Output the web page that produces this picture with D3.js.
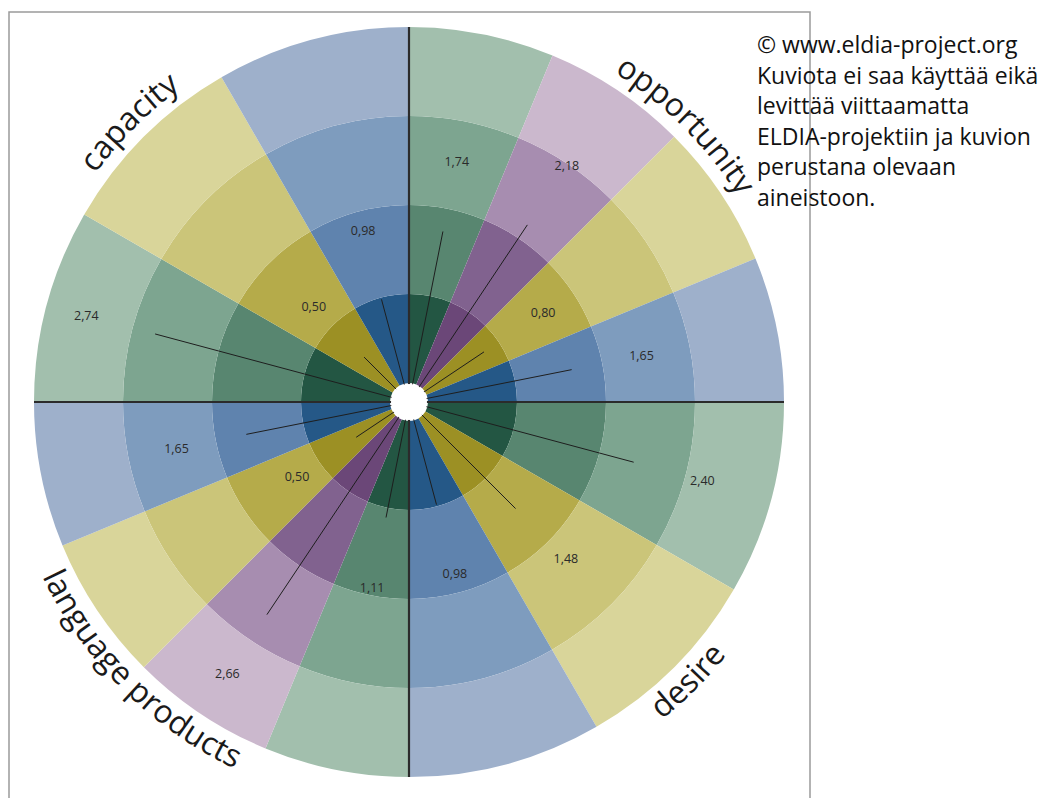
<!DOCTYPE html>
<html>
<head>
<meta charset="utf-8">
<script src="https://cdn.jsdelivr.net/npm/d3@7"></script>
<style>
  html, body { margin: 0; padding: 0; background: #fff; }
  svg { display: block; }
  text { font-family: "Open Sans", "Noto Sans", sans-serif; fill: #1a1a1a; }
</style>
</head>
<body>
<svg id="chart" width="1045" height="798"></svg>
<script>
// quadrants, clockwise from the top
var quadrants = ['opportunity', 'desire', 'language products', 'capacity'];
// one entry per sector, clockwise from the top
var sectorQuadrant = [0, 0, 0, 0, 1, 1, 1, 2, 2, 2, 2, 3, 3, 3];
var sectorColor = ['green', 'purple', 'yellow', 'blue',
  'green', 'yellow', 'blue',
  'green', 'purple', 'yellow', 'blue',
  'green', 'yellow', 'blue'];
var sectorValue = [1.74, 2.18, 0.80, 1.65,
  2.40, 1.48, 0.98,
  1.11, 2.66, 0.50, 1.65,
  2.74, 0.50, 0.98];
var rings = [1, 2, 3, 4];
var noteLines = ['© www.eldia-project.org', 'Kuviota ei saa käyttää eikä',
  'levittää viittaamatta', 'ELDIA-projektiin ja kuvion',
  'perustana olevaan', 'aineistoon.'];

// shades from inner ring to outer ring
var palette = {
  green:  ['#235643', '#588670', '#7da590', '#a2bfad'],
  blue:   ['#255887', '#5f83ae', '#7e9cbe', '#9eb0cb'],
  yellow: ['#9c9024', '#b5ab4a', '#cbc579', '#d9d59a'],
  purple: ['#6b4778', '#81628f', '#a78db0', '#cbb8cd']
};

var G = { cx: 409, cy: 402 };
var svg = d3.select('#chart');

var fmt = d3.formatLocale({ decimal: ',', thousands: ' ', grouping: [3], currency: ['', ''] }).format('.2f');

var r = d3.scaleLinear().domain([0, 4]).range([19, 375]);
var quadScale = d3.scaleBand().domain(d3.range(quadrants.length)).range([0, 2 * Math.PI]);

// angular band scale inside each quadrant
var sectors = sectorValue.map(function(v, i) {
  return { i: i, value: v, q: sectorQuadrant[i], color: sectorColor[i] };
});
quadrants.forEach(function(name, q) {
  var members = sectors.filter(function(s) { return s.q === q; });
  var a0 = quadScale(q);
  var band = d3.scaleBand().domain(members.map(function(s) { return s.i; }))
    .range([a0, a0 + quadScale.bandwidth()]);
  members.forEach(function(s) {
    s.a0 = band(s.i);
    s.a1 = s.a0 + band.bandwidth();
    s.mid = (s.a0 + s.a1) / 2;
  });
});

function polar(rad, ang) {
  return [Math.sin(ang) * rad, -Math.cos(ang) * rad];
}

// frame
svg.append('rect')
  .attr('x', 9).attr('y', 12)
  .attr('width', 801).attr('height', 820)
  .attr('fill', 'none')
  .attr('stroke', '#9a9a9a')
  .attr('stroke-width', 1.5);

var g = svg.append('g').attr('transform', 'translate(' + G.cx + ',' + G.cy + ')');

var arc = d3.arc();
rings.forEach(function(k, ri) {
  g.selectAll('.ring' + k)
    .data(sectors)
    .enter()
    .append('path')
    .attr('d', function(s) {
      return arc({ innerRadius: r(k - 1), outerRadius: r(k), startAngle: s.a0, endAngle: s.a1 });
    })
    .attr('fill', function(s) { return palette[s.color][ri]; });
});

// axis cross
g.append('line').attr('x1', 0).attr('x2', 0).attr('y1', -r(4)).attr('y2', r(4))
  .attr('stroke', '#2b2b2b').attr('stroke-width', 2.2);
g.append('line').attr('y1', 0).attr('y2', 0).attr('x1', -r(4)).attr('x2', r(4))
  .attr('stroke', '#2b2b2b').attr('stroke-width', 2.2);

// value needles
g.selectAll('.needle')
  .data(sectors)
  .enter()
  .append('line')
  .attr('x1', 0).attr('y1', 0)
  .attr('x2', function(s) { return polar(r(s.value), s.mid)[0]; })
  .attr('y2', function(s) { return polar(r(s.value), s.mid)[1]; })
  .attr('stroke', '#1e1e1e')
  .attr('stroke-width', 1);

// center hole
g.append('circle').attr('r', 18).attr('fill', '#fff');

// value labels
g.selectAll('.val')
  .data(sectors)
  .enter()
  .append('text')
  .attr('x', function(s) { return polar(r(s.value + 0.8), s.mid)[0]; })
  .attr('y', function(s) { return polar(r(s.value + 0.8), s.mid)[1]; })
  .attr('dy', '0.35em')
  .attr('text-anchor', 'middle')
  .style('font-size', '12.5px')
  .style('fill', '#2a2a2a')
  .text(function(s) { return fmt(s.value); });

// quadrant names along the rim
var defs = svg.append('defs');
quadrants.forEach(function(name, q) {
  var a0 = quadScale(q), a1 = a0 + quadScale.bandwidth();
  var mid = (a0 + a1) / 2;
  var top = Math.cos(mid) > 0;
  var rad = top ? 388 : 406;
  var p0 = polar(rad, top ? a0 : a1);
  var p1 = polar(rad, top ? a1 : a0);
  defs.append('path')
    .attr('id', 'rim' + q)
    .attr('d', 'M' + (G.cx + p0[0]) + ',' + (G.cy + p0[1]) +
      ' A' + rad + ',' + rad + ' 0 0 ' + (top ? 1 : 0) + ' ' +
      (G.cx + p1[0]) + ',' + (G.cy + p1[1]));
  svg.append('text')
    .style('font-size', '32px')
    .append('textPath')
    .attr('href', '#rim' + q)
    .attr('startOffset', '50%')
    .attr('text-anchor', 'middle')
    .text(name);
});

// copyright note
svg.append('g').selectAll('text')
  .data(noteLines)
  .enter()
  .append('text')
  .attr('x', 757)
  .attr('y', function(d, i) { return 53 + i * 30.5; })
  .style('font-size', '23px')
  .style('fill', '#111')
  .text(function(d) { return d; });
</script>
</body>
</html>
